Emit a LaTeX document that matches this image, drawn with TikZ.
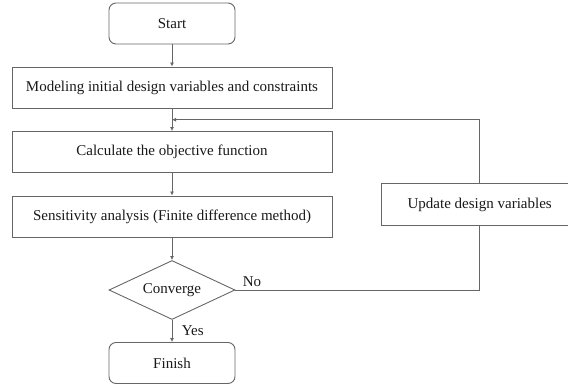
\documentclass[tikz,border=0pt]{standalone}
\usepackage{fontspec}
\setmainfont{Liberation Serif}
\usetikzlibrary{calc, positioning}
\usetikzlibrary{arrows.meta}
\usetikzlibrary{shapes.geometric}

\begin{document}
\begin{tikzpicture}[x=1pt, y=-1pt,
  font=\fontsize{15}{17}\selectfont, text=black!90,
  line/.style={draw=black!60, line width=0.9pt},
  arr/.style={line, -{Latex[length=4pt, width=4pt]}},
  term/.style={line, rounded corners=7pt, minimum width=126pt, minimum height=41pt},
  proc/.style={line, minimum width=320pt, minimum height=41pt},
  cond/.style={line, diamond, aspect=2.1, minimum width=126pt, minimum height=59pt, inner sep=0pt}]
\def\cx{172}
\def\ux{479.7}

\clip (0,0) rectangle (568,388);

\node[term] (start) at (\cx,23.5) {Start};
\node[proc] (model) at (\cx,87.5) {Modeling initial design variables and constraints};
\node[proc] (calc) at (\cx,152) {Calculate the objective function};
\node[proc] (sens) at (\cx,216.5) {Sensitivity analysis (Finite difference method)};
\node[cond] (conv) at (\cx,290) {Converge};
\node[term] (finish) at (\cx,363) {Finish};
\node[proc, minimum width=197pt, minimum height=42pt] (update) at (\ux,204.5) {Update design variables};

\coordinate (join) at ($(model.south)!0.5!(calc.north)$);

\draw[arr] (start) -- (model);
\draw[arr] (model) -- (calc);
\draw[arr] (calc) -- (sens);
\draw[arr] (sens) -- (conv);
\draw[arr] (conv) -- node[right, xshift=6pt] {Yes} (finish);
\draw[line] (conv.east) -| node[pos=0.034, above] {No} (update.south);
\draw[arr] (update.north) |- (join);
\end{tikzpicture}
\end{document}
